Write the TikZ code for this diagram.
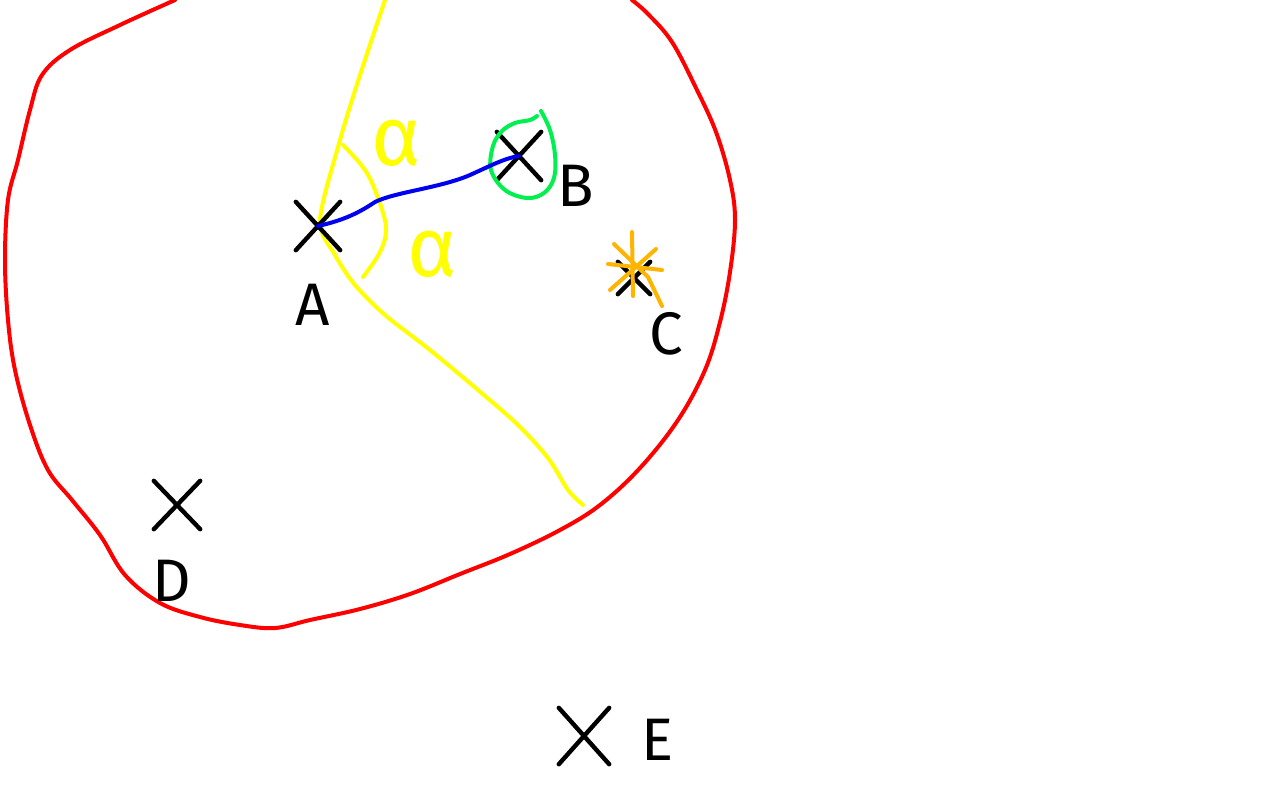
\documentclass[tikz,border=0pt]{standalone}
\usepackage{fontspec}
\setmainfont{Fira Sans}
\usetikzlibrary{shapes.misc}
\definecolor{penred}{RGB}{255,0,0}
\definecolor{penyellow}{RGB}{255,255,0}
\definecolor{penblue}{RGB}{0,0,240}
\definecolor{pengreen}{RGB}{0,240,80}
\definecolor{penorange}{RGB}{255,180,0}
\begin{document}
\begin{tikzpicture}[x=0.5pt,y=-0.5pt,
  stroke/.style={line width=2pt,line cap=round,line join=round},
  xmark/.style={cross out,draw=black,line width=2.2pt,line cap=round,minimum width=20pt,minimum height=22pt,inner sep=0pt},
  lbl/.style={font=\fontsize{30}{32}\selectfont,text=black,inner sep=0pt},
  alph/.style={font=\fontsize{42}{44}\selectfont,text=penyellow,inner sep=0pt}]
\useasboundingbox (0,0) rectangle (1280,800);
% big red loop
\draw[stroke,penred] plot[smooth,tension=0.6] coordinates {
 (175,0) (120,25) (70,50) (42,75) (30,110) (18,160) (8,200) (5,260) (8,320)
 (15,370) (30,425) (48,470) (72,500) (100,535) (125,575) (160,603) (200,617)
 (240,625) (275,628) (310,620) (360,609) (410,594) (460,574) (510,554)
 (560,530) (600,505) (640,468) (678,420) (705,370) (720,322) (730,272)
 (735,220) (730,180) (716,132) (696,88) (672,42) (648,14) (632,0)};
% yellow bisector line
\draw[stroke,penyellow] plot[smooth,tension=0.5] coordinates {
 (385,0) (360,75) (340,140) (320,220) (335,255) (355,285) (385,315) (430,350)
 (478,390) (518,425) (548,458) (568,490) (583,505)};
% yellow arc
\draw[stroke,penyellow] plot[smooth,tension=0.6] coordinates {
 (343,145) (365,170) (378,198) (386,228) (380,252) (363,277)};
% crosses
\node[xmark] (A) at (318,226) {};
\node[xmark] (B) at (519,156) {};
\node[xmark,minimum width=14pt,minimum height=14pt] (C) at (634,278) {};
\node[xmark,minimum width=21pt,minimum height=22pt] (D) at (177,505) {};
\node[xmark,minimum width=23pt,minimum height=26pt] (E) at (584,736) {};
% green loop around B
\draw[stroke,pengreen] plot[smooth,tension=0.6] coordinates {
 (541,111) (550,130) (555,155) (554,178) (544,193) (527,198) (505,190)
 (491,170) (493,146) (502,131) (515,123) (530,120) (537,116)};
% blue connector A-B
\draw[stroke,penblue] (A.center) .. controls (345,220) and (360,212) .. (375,202)
  .. controls (395,192) and (440,188) .. (470,175) .. controls (490,166) and (505,158) .. (B.center);
% orange star over C
\draw[stroke,penorange] (632,232) -- (633,296);
\draw[stroke,penorange] (608,264) -- (662,270);
\draw[stroke,penorange] (614,244) -- (648,277) -- (662,306);
\draw[stroke,penorange] (656,249) -- (610,290);
% labels
\node[lbl] (lA) at (313,305) {A};
\node[lbl] (lB) at (576,186) {B};
\node[lbl] (lC) at (666,334) {C};
\node[lbl] (lD) at (172,581) {D};
\node[lbl] (lE) at (658,740) {E};
\node[alph] (a1) at (396,143) {α};
\node[alph] (a2) at (432,254) {α};
\end{tikzpicture}
\end{document}
